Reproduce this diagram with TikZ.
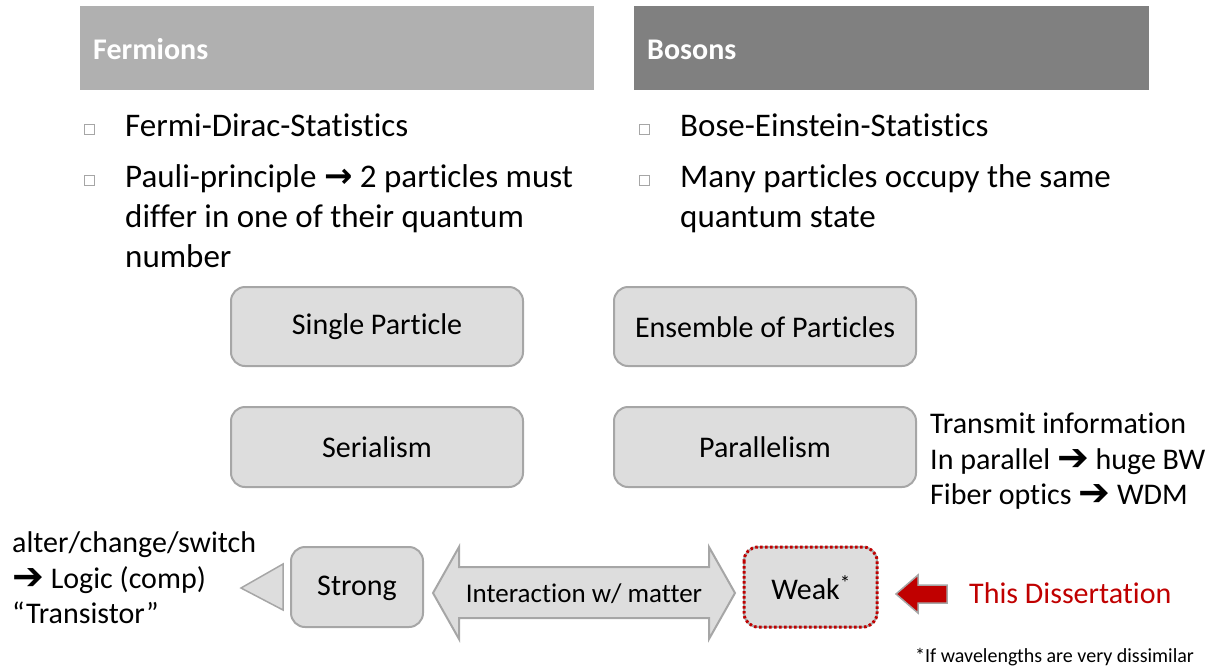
\documentclass[tikz,border=0pt]{standalone}
\usepackage{fontspec}
\setmainfont{Carlito}[Ligatures=NoCommon]
\newfontfamily\dejavu{DejaVu Sans}
\definecolor{hdrA}{HTML}{B0B0B0}
\definecolor{hdrB}{HTML}{808080}
\definecolor{boxfill}{HTML}{DDDDDD}
\definecolor{boxline}{HTML}{A6A6A6}
\definecolor{darkred}{HTML}{C00000}
\newcommand{\harrow}{\raisebox{-1pt}{\dejavu\bfseries\fontsize{38}{40}\selectfont ➔}}
\begin{document}
\begin{tikzpicture}[x=1pt,y=-1pt,
  hdr/.style={font=\fontsize{30}{34}\selectfont\bfseries, text=white, anchor=base west, inner sep=0},
  btxt/.style={font=\fontsize{33}{40}\selectfont, anchor=base west, inner sep=0},
  side/.style={font=\fontsize{30}{36}\selectfont, anchor=base west, inner sep=0, align=left},
  bullet/.style={draw=boxline, line width=0.8pt, fill=white, minimum size=10pt, inner sep=0},
  rbox/.style={draw=boxline, fill=boxfill, line width=2pt, rounded corners=14pt, inner sep=0},
  btext/.style={font=\fontsize{30}{34}\selectfont},
]
\useasboundingbox (0,0) rectangle (1217,667);
% headers
\fill[hdrA] (80,6) rectangle (594,90);
\fill[hdrB] (634,6) rectangle (1149,90);
\node[hdr] (fer) at (93,59) {Fermions};
\node[hdr] (bos) at (647,59) {Bosons};
% bullets left
\node[bullet] (bl1) at (89,129) {};
\node[bullet] (bl2) at (89,180) {};
\node[btxt] (tl1) at (125,136) {Fermi-Dirac-Statistics};
\node[btxt] (tl2) at (125,187) {Pauli-principle {\dejavu\bfseries\fontsize{34}{38}\selectfont →} 2 particles must};
\node[btxt] (tl3) at (125,227) {differ in one of their quantum};
\node[btxt] (tl4) at (125,267) {number};
% bullets right
\node[bullet] (br1) at (644,129) {};
\node[bullet] (br2) at (644,180) {};
\node[btxt] (tr1) at (680,136) {Bose-Einstein-Statistics};
\node[btxt] (tr2) at (680,187) {Many particles occupy the same};
\node[btxt] (tr3) at (680,227) {quantum state};
% boxes
\draw[rbox] (231,287) rectangle (523,366);
\node[btext] (single) at (377,327) {Single Particle};
\draw[rbox] (614,287) rectangle (916,366);
\node[btext] (ens) at (765,327) {Ensemble of Particles};
\draw[rbox] (231,407) rectangle (523,487);
\node[btext] (ser) at (377,447) {Serialism};
\draw[rbox] (614,407) rectangle (916,487);
\node[btext] (par) at (765,447) {Parallelism};
% side text right
\node[side] (tx1) at (930,433) {Transmit information};
\node[side] (tx2) at (930,469) {In parallel \harrow{} huge BW};
\node[side] (tx3) at (930,504) {Fiber optics \harrow{} WDM};
% side text left
\node[side] (lx1) at (12,552) {alter/change/switch};
\node[side] (lx2) at (12,588) {\harrow{} Logic (comp)};
\node[side] (lx3) at (12,623) {“Transistor”};
% strong box
\draw[rbox] (291,547) rectangle (423,627);
\node[btext] (strong) at (357,588) {Strong};
% triangle
\draw[boxline, fill=boxfill, line width=1.5pt, line join=miter] (241,588) -- (283,564) -- (283,610) -- cycle;
% double arrow
\draw[boxline, fill=boxfill, line width=2pt, line join=miter]
  (433,593) -- (459,547) -- (459,567) -- (709,567) -- (709,547) -- (735,593)
  -- (709,639) -- (709,618) -- (459,618) -- (459,639) -- cycle;
\node[font=\fontsize{27}{30}\selectfont] (inter) at (584,594) {Interaction w/ matter};
% weak box
\draw[rbox] (744,547) rectangle (877,627);
\draw[darkred, line width=3pt, dash pattern=on 2.5pt off 2.5pt, rounded corners=14pt] (744,547) rectangle (877,627);
\node[btext] (weak) at (811,588) {Weak\textsuperscript{*}};
% red arrow
\draw[boxline, fill=darkred, line width=1.5pt, line join=miter]
  (896,594) -- (918,575) -- (918,585) -- (947,585) -- (947,603) -- (918,603) -- (918,613) -- cycle;
\node[font=\fontsize{30}{34}\selectfont, text=darkred, anchor=west, inner sep=0] (diss) at (969,593) {This Dissertation};
% footnote
\node[font=\fontsize{20}{24}\selectfont, anchor=base west, inner sep=0] (fn) at (915,662) {*If wavelengths are very dissimilar};
\end{tikzpicture}
\end{document}
